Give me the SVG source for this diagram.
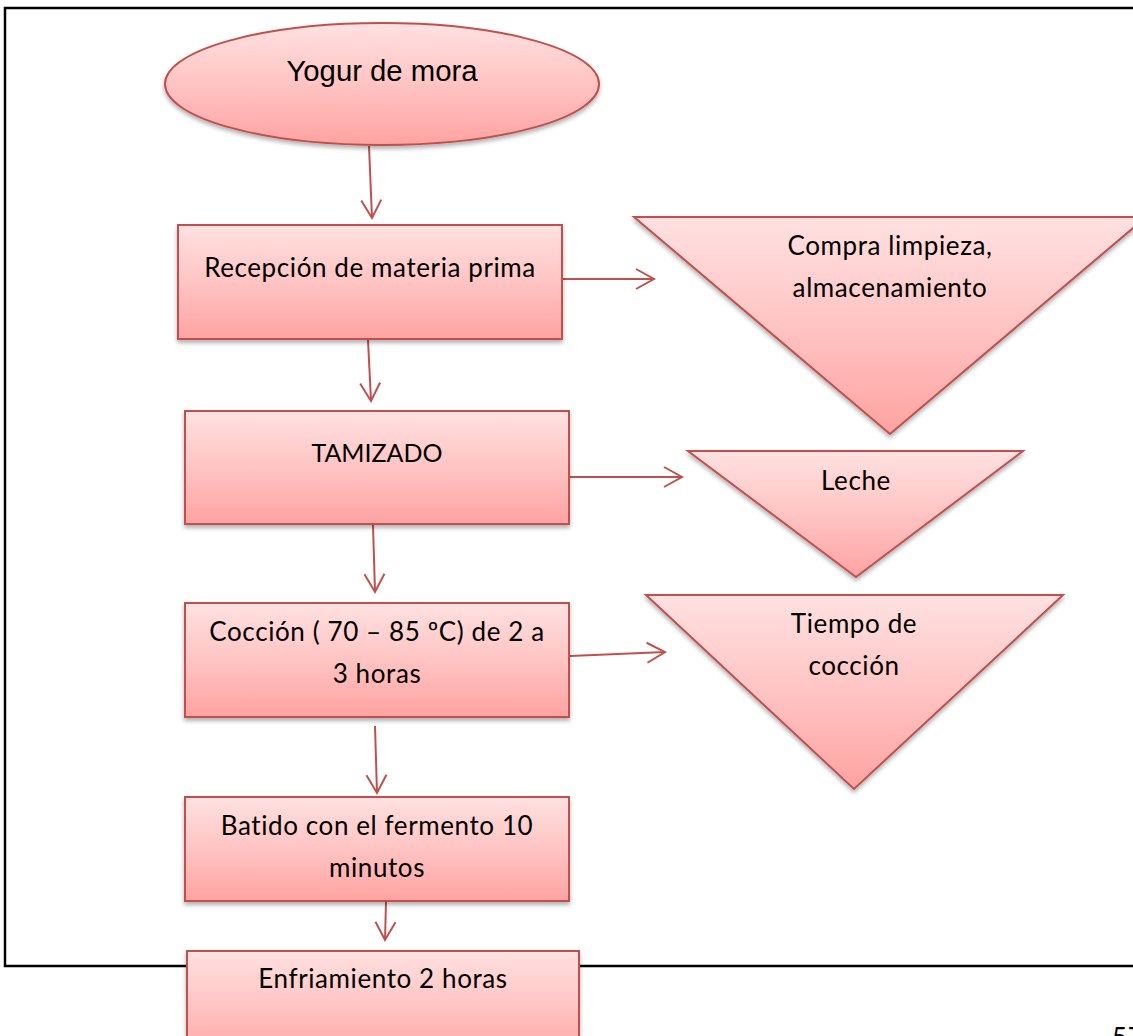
<svg xmlns="http://www.w3.org/2000/svg" width="1133" height="1036" viewBox="0 0 1133 1036">
  <style>
    .shape { fill: url(#pinkFill); stroke: #C0504D; stroke-width: 2; filter: url(#softShadow); }
    .lbl { font-family: Lato, "Open Sans", "Liberation Sans", sans-serif; font-size: 26px; letter-spacing: 0.6px; fill: #000; text-anchor: middle; }
    .caps { font-size: 25px; letter-spacing: 0; }
    .title { font-family: "Liberation Sans", Arial, sans-serif; font-size: 29.3px; fill: #000; text-anchor: middle; }
    .link { fill: none; stroke: #C0504D; stroke-width: 2; marker-end: url(#openArrow); }
    .frame { fill: none; stroke: #000; stroke-width: 2.5; }
  </style>
  <defs>
    <linearGradient id="pinkFill" x1="0" y1="0" x2="0" y2="1">
      <stop offset="0" stop-color="#FFE1E1"/>
      <stop offset="0.5" stop-color="#FFC4C3"/>
      <stop offset="1" stop-color="#FFA3A2"/>
    </linearGradient>
    <filter id="softShadow" x="-10%" y="-10%" width="120%" height="130%">
      <feDropShadow dx="0" dy="3" stdDeviation="2" flood-color="#000" flood-opacity="0.3"/>
    </filter>
    <marker id="openArrow" markerUnits="userSpaceOnUse" markerWidth="24" markerHeight="24" viewBox="-20 -12 24 24" refX="0" refY="0" orient="auto">
      <path d="M -18 -10 L 0 0 L -18 10" fill="none" stroke="#C0504D" stroke-width="2"/>
    </marker>
  </defs>

  <!-- page frame -->
  <g id="frame">
    <path class="frame" d="M 1140 8 L 5 8 L 5 966 L 1140 966"/>
  </g>

  <!-- connectors -->
  <g id="connectors">
    <line class="link" x1="369" y1="146" x2="372" y2="218"/>
    <line class="link" x1="368" y1="340" x2="371" y2="401"/>
    <line class="link" x1="373" y1="525" x2="375" y2="592"/>
    <line class="link" x1="375" y1="726" x2="377" y2="793"/>
    <line class="link" x1="386" y1="902" x2="385" y2="940"/>
    <line class="link" x1="563" y1="279" x2="654" y2="279"/>
    <line class="link" x1="570" y1="477" x2="682" y2="477"/>
    <line class="link" x1="570" y1="656" x2="665" y2="652"/>
  </g>

  <!-- process flow -->
  <g id="node-yogur">
    <ellipse class="shape" cx="382" cy="84" rx="217" ry="61"/>
    <text class="title" x="382" y="81">Yogur de mora</text>
  </g>

  <g id="node-recepcion">
    <rect class="shape" x="178" y="225" width="384" height="114"/>
    <text class="lbl" x="370" y="277">Recepción de materia prima</text>
  </g>

  <g id="node-tamizado">
    <rect class="shape" x="185" y="411" width="384" height="113"/>
    <text class="lbl caps" x="377" y="462">TAMIZADO</text>
  </g>

  <g id="node-coccion">
    <rect class="shape" x="185" y="603" width="384" height="114"/>
    <text class="lbl" x="377" y="641">Cocción ( 70 – 85 ºC) de 2 a</text>
    <text class="lbl" x="377" y="683">3 horas</text>
  </g>

  <g id="node-batido">
    <rect class="shape" x="185" y="797" width="384" height="104"/>
    <text class="lbl" x="377" y="835">Batido con el fermento 10</text>
    <text class="lbl" x="377" y="877">minutos</text>
  </g>

  <g id="node-enfriamiento">
    <rect class="shape" x="187" y="951" width="392" height="110"/>
    <text class="lbl" x="383" y="988">Enfriamiento 2 horas</text>
  </g>

  <!-- side inputs -->
  <g id="node-compra">
    <polygon class="shape" points="634,217 1146,217 890,434"/>
    <text class="lbl" x="890" y="255">Compra limpieza,</text>
    <text class="lbl" x="890" y="297">almacenamiento</text>
  </g>

  <g id="node-leche">
    <polygon class="shape" points="688,451 1023,451 856,577"/>
    <text class="lbl" x="856" y="490">Leche</text>
  </g>

  <g id="node-tiempo">
    <polygon class="shape" points="646,595 1063,595 854,789"/>
    <text class="lbl" x="854" y="633">Tiempo de</text>
    <text class="lbl" x="854" y="675">cocción</text>
  </g>

  <!-- page number, clipped by the bottom edge of the page -->
  <text class="lbl" x="1112" y="1047" style="text-anchor:start">57</text>
</svg>
